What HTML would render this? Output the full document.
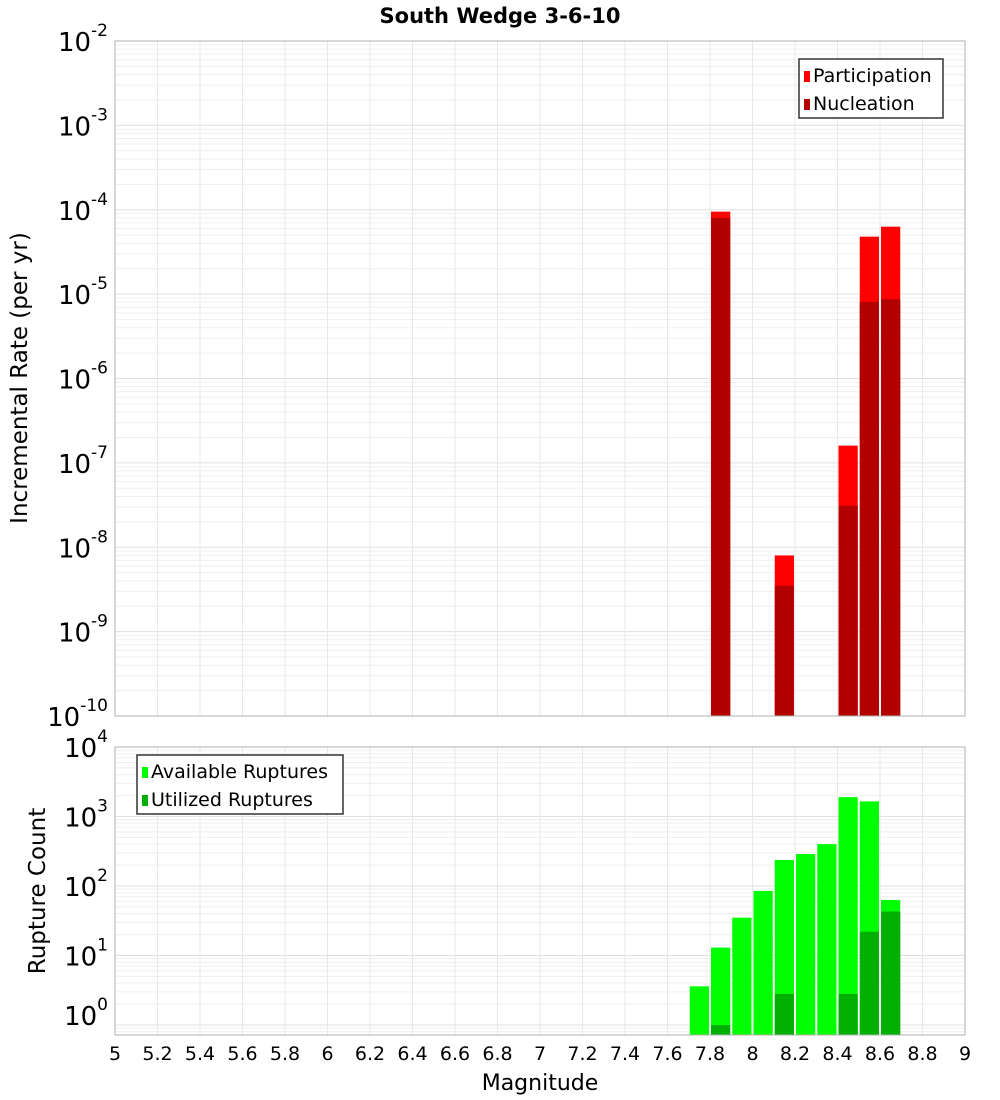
<!DOCTYPE html>
<html><head><meta charset="utf-8"><style>body{margin:0;background:#fff}svg{display:block;font-family:"DejaVu Sans","Liberation Sans",sans-serif}</style></head>
<body>
<svg id="c" width="1000" height="1100" xmlns="http://www.w3.org/2000/svg">
<text x="500" y="23" text-anchor="middle" font-size="21" font-weight="bold">South Wedge 3-6-10</text>
<g id="g"></g>
</svg>
<script>
const mags=[7.75,7.85,7.95,8.05,8.15,8.25,8.35,8.45,8.55,8.65];
const participation=[0,9.5e-5,0,0,8e-9,0,0,1.6e-7,4.8e-5,6.3e-5];
const nucleation=[0,8e-5,0,0,3.5e-9,0,0,3.1e-8,8.1e-6,8.7e-6];
const available=[3.6,13,35,85,237,288,400,1900,1650,63];
const utilized=[0,1,0,0,2.8,0,0,2.8,22,43];
const xTicks=[5,5.2,5.4,5.6,5.8,6,6.2,6.4,6.6,6.8,7,7.2,7.4,7.6,7.8,8,8.2,8.4,8.6,8.8,9];
const topExps=[-2,-3,-4,-5,-6,-7,-8,-9,-10];
const botExps=[4,3,2,1,0];

const NS="http://www.w3.org/2000/svg";
const g=document.getElementById('g');
function el(t,a,p){const e=document.createElementNS(NS,t);for(const k in a)e.setAttribute(k,a[k]);(p||g).appendChild(e);return e;}
const X0=115,X1=965;
const x=m=>X0+(m-5)/4*(X1-X0);
const T0=41,T1=716;
const yTop=v=>T0+(-2-Math.log10(v))*(T1-T0)/8;
const B0=747,B1=1035,BD=69.5;
const yBot=v=>B0+(4-Math.log10(v))*BD;

function grid(top,bot,fy,lo,hi){
  for(let e=lo;e<hi;e++)for(let k=1;k<10;k++){const yy=fy(k*Math.pow(10,e));if(yy>=top&&yy<=bot){const l=el('line',{x1:X0,x2:X1,y1:yy,y2:yy,stroke:k==1?'#e0e0e0':'#efefef','stroke-width':1});}}
  xTicks.forEach(t=>{const l=el('line',{x1:x(t),x2:x(t),y1:top,y2:bot,stroke:'#e8e8e8'});});
}
grid(T0,T1,yTop,-10,-2);
grid(B0,B1,yBot,-1,4);

const bw=(x(5.1)-x(5))-2;
mags.forEach((m,i)=>{
  const bx=x(m)-bw/2;
  if(participation[i]>0){const r=el('rect',{x:bx,y:yTop(participation[i]),width:bw,height:T1-yTop(participation[i]),fill:'#ff0000'});}
  if(nucleation[i]>0){const r=el('rect',{x:bx,y:yTop(nucleation[i]),width:bw,height:T1-yTop(nucleation[i]),fill:'#b30000'});}
  if(available[i]>0){const r=el('rect',{x:bx,y:yBot(available[i]),width:bw,height:B1-yBot(available[i]),fill:'#00ff00'});}
  if(utilized[i]>0){const r=el('rect',{x:bx,y:yBot(utilized[i]),width:bw,height:B1-yBot(utilized[i]),fill:'#00b000'});}
});

let f1=el('rect',{x:X0,y:T0,width:X1-X0,height:T1-T0,fill:'none',stroke:'#b0b0b0'});

let f2=el('rect',{x:X0,y:B0,width:X1-X0,height:B1-B0,fill:'none',stroke:'#b0b0b0'});


function expLabel(y,e,name){
  const t=el('text',{x:108,y:y+10,'text-anchor':'end','font-size':26});
  
  t.appendChild(document.createTextNode('10'));
  const s=el('tspan',{dy:-15,'font-size':17},t);s.textContent=String(e);
}
topExps.forEach(e=>expLabel(yTop(Math.pow(10,e)),e,'y-tick-label'));
botExps.forEach(e=>expLabel(yBot(Math.pow(10,e))-(e==0?10:0),e,'y2-tick-label'));

xTicks.forEach(t=>{const l=el('text',{x:x(t),y:1060,'text-anchor':'middle','font-size':19});l.textContent=String(t);});

let a=el('text',{x:540,y:1090,'text-anchor':'middle','font-size':22});a.textContent='Magnitude';
a=el('text',{x:27,y:378,'text-anchor':'middle','font-size':23,transform:'rotate(-90 27 378)'});a.textContent='Incremental Rate (per yr)';
a=el('text',{x:45,y:891,'text-anchor':'middle','font-size':23,transform:'rotate(-90 45 891)'});a.textContent='Rupture Count';

function legend(lx,ly,w,items,name){
  const r=el('rect',{x:lx,y:ly,width:w,height:59,fill:'#fff',stroke:'#333','stroke-width':1.5});
  
  items.forEach((it,i)=>{
    const s=el('rect',{x:lx+5,y:ly+12+i*28,width:6,height:11,fill:it[1]});
    const t=el('text',{x:lx+14,y:ly+23+i*28,'font-size':19});t.textContent=it[0];
  });
}
legend(799,59,144,[['Participation','#ff0000'],['Nucleation','#b30000']],'top-legend');
legend(137,755,206,[['Available Ruptures','#00ff00'],['Utilized Ruptures','#00b000']],'bottom-legend');
</script>
</body></html>
